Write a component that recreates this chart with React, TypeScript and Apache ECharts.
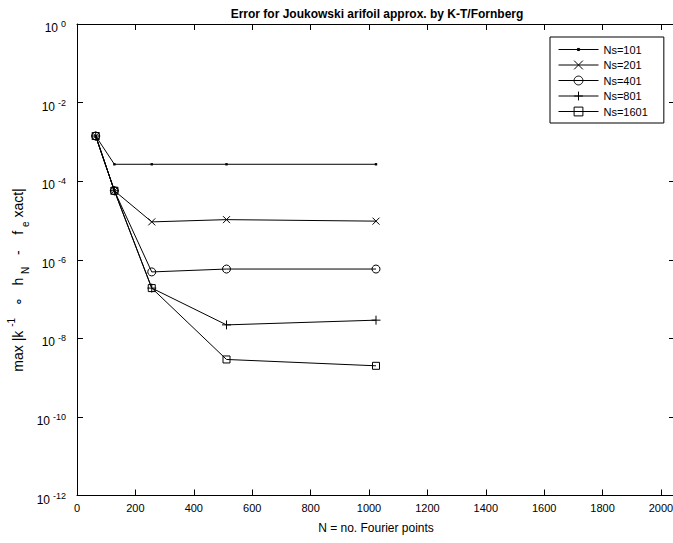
import React, { useEffect, useRef } from 'react';
import * as echarts from 'echarts';

// ---- data ----
const nFourier = [64, 128, 256, 512, 1024];
const ns101 = [1.41e-3, 2.69e-4, 2.69e-4, 2.69e-4, 2.69e-4];
const ns201 = [1.41e-3, 5.7e-5, 9.2e-6, 1.05e-5, 9.6e-6];
const ns401 = [1.41e-3, 5.7e-5, 4.9e-7, 5.8e-7, 5.8e-7];
const ns801 = [1.41e-3, 5.7e-5, 1.9e-7, 2.2e-8, 2.9e-8];
const ns1601 = [1.41e-3, 5.7e-5, 1.9e-7, 2.9e-9, 2.0e-9];
const seriesNames = ['Ns=101', 'Ns=201', 'Ns=401', 'Ns=801', 'Ns=1601'];
const xTickLabels = ['0', '200', '400', '600', '800', '1000', '1200', '1400', '1600', '1800', '2000'];
const yTickExponents = [0, -2, -4, -6, -8, -10, -12];
const titleText = 'Error for Joukowski arifoil approx. by K-T/Fornberg';
const xAxisTitle = 'N = no. Fourier points';

const FONT = 'Liberation Sans, Arial, Helvetica, sans-serif';

const SYM_DOT = 'path://M0,0M10,10M3.8,3.8L6.2,3.8L6.2,6.2L3.8,6.2Z';
const SYM_X = 'path://M0,0L10,10M10,0L0,10';
const SYM_PLUS = 'path://M5,0L5,10M0,5L10,5';

export default function App() {
  const ref = useRef<HTMLDivElement>(null);
  useEffect(() => {
    if (!ref.current) return;
    const chart = echarts.init(ref.current, undefined, { renderer: 'svg' });
    const allSeries = [ns101, ns201, ns401, ns801, ns1601];
    const symbols = [SYM_DOT, SYM_X, 'circle', SYM_PLUS, 'rect'];
    const sizes = [10, 7, 8, 9, 7];
    const series = allSeries.map((vals, i) => ({
      type: 'line',
      name: seriesNames[i],
      data: nFourier.map((n, j) => [n, vals[j]]),
      xAxisIndex: 0,
      yAxisIndex: 0,
      symbol: symbols[i],
      symbolSize: sizes[i],
      showAllSymbol: true,
      silent: true,
      lineStyle: { color: '#000', width: 1 },
      itemStyle: {
        color: i === 0 ? '#000' : 'transparent',
        borderColor: '#000',
        borderWidth: i === 0 ? 0 : 1,
      },
      emphasis: { disabled: true },
      z: 10 - i,
    }));
    const xMin = 0;
    const xMax = 2048;
    const xInterval = 200;
    const yRich = {
      b: { fontSize: 12, lineHeight: 12, verticalAlign: 'bottom', fontFamily: FONT, color: '#000' },
      s: { fontSize: 9, lineHeight: 20, verticalAlign: 'middle', fontFamily: FONT, color: '#000', padding: [0, 0, 0, 3] },
    };
    const xAxisBase = {
      type: 'value',
      min: xMin,
      max: xMax,
      interval: xInterval,
      splitLine: { show: false },
      axisLine: { show: true, onZero: false, lineStyle: { color: '#000', width: 1 } },
      axisTick: { show: true, inside: true, length: 6, lineStyle: { color: '#000', width: 1 } },
    };
    const yAxisBase = {
      type: 'log',
      logBase: 10,
      min: Math.pow(10, yTickExponents[yTickExponents.length - 1]),
      max: Math.pow(10, yTickExponents[0]),
      interval: 2,
      splitNumber: 6,
      splitLine: { show: false },
      minorTick: { show: false },
      axisLine: { show: true, onZero: false, lineStyle: { color: '#000', width: 1 } },
      axisTick: { show: true, inside: true, length: 6, lineStyle: { color: '#000', width: 1 } },
    };
    chart.setOption({
      animation: false,
      backgroundColor: '#fff',
      textStyle: { fontFamily: FONT },
      title: {
        text: titleText,
        left: 372,
        textAlign: 'center',
        top: 3,
        textStyle: { fontSize: 12, fontWeight: 'bold', color: '#000', fontFamily: FONT },
      },
      grid: {
        left: 77,
        right: -2,
        top: 24,
        bottom: 47.5,
        containLabel: false,
        outerBoundsMode: 'none',
      },
      legend: {
        orient: 'vertical',
        left: 550,
        top: 37,
        itemWidth: 40,
        itemHeight: 11,
        itemGap: 4.5,
        padding: [7, 16, 6, 8],
        borderColor: '#000',
        borderWidth: 1,
        backgroundColor: '#fff',
        data: seriesNames,
        itemStyle: { borderWidth: 1 },
        lineStyle: { width: 1, color: '#000' },
        textStyle: { fontSize: 11, color: '#000', fontFamily: FONT },
        selectedMode: false,
      },
      xAxis: [
        {
          ...xAxisBase,
          position: 'bottom',
          name: xAxisTitle,
          nameLocation: 'middle',
          nameGap: 26,
          nameTextStyle: { fontSize: 12, color: '#000', fontFamily: FONT },
          axisLabel: {
            color: '#000',
            fontSize: 11,
            margin: 7,
            fontFamily: FONT,
            formatter: (v: number) => {
              const idx = xTickLabels.indexOf(String(v));
              return idx >= 0 ? xTickLabels[idx] : '';
            },
          },
        },
        {
          ...xAxisBase,
          position: 'top',
          axisLabel: { show: false },
        },
      ],
      yAxis: [
        {
          ...yAxisBase,
          position: 'left',
          axisLabel: {
            color: '#000',
            margin: 11,
            rich: yRich,
            formatter: (v: number) => {
              const e = Math.round(Math.log10(v));
              if (!yTickExponents.includes(e)) return '';
              return `{b|10}{s|${e}}`;
            },
          },
        },
        {
          ...yAxisBase,
          position: 'right',
          axisLabel: { show: false },
        },
      ],
      graphic: [
        {
          type: 'text',
          x: 18,
          y: 280,
          rotation: Math.PI / 2,
          style: {
            text: '{n|max |k }{sup|-1}{n|   \u2218   h }{sub|N}{n|   -    f }{sub|e}{n| xact|}',
            align: 'center',
            verticalAlign: 'middle',
            fill: '#000',
            rich: {
              n: { fontSize: 14, lineHeight: 24, verticalAlign: 'middle', fontFamily: FONT, fill: '#000' },
              sup: { fontSize: 10, lineHeight: 10, verticalAlign: 'top', fontFamily: FONT, fill: '#000' },
              sub: { fontSize: 10, lineHeight: 10, verticalAlign: 'bottom', fontFamily: FONT, fill: '#000' },
            },
          },
        },
      ],
      series,
    });
    return () => chart.dispose();
  }, []);
  return <div ref={ref} style={{ width: 673, height: 543, position: 'absolute', left: 0, top: 0 }} />;
}
